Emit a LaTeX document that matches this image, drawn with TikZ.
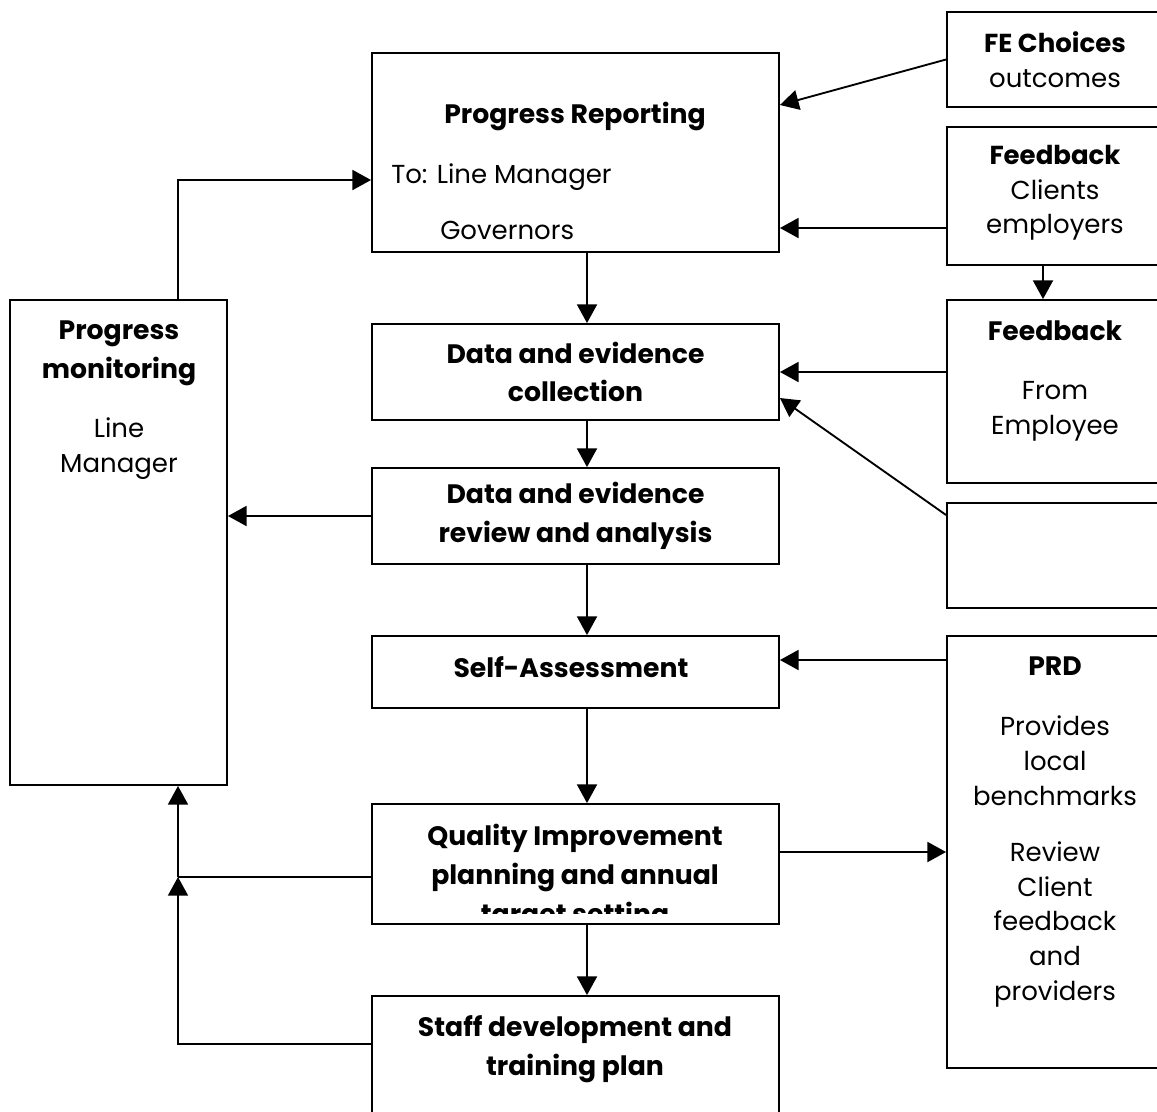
\documentclass[tikz,border=0pt]{standalone}
\usepackage{fontspec}
\setmainfont{Poppins}
\usetikzlibrary{arrows.meta}
\tikzset{
  box/.style={draw,line width=1.4pt,inner sep=0pt},
  txt/.style={align=center,inner sep=0pt,font=\fontsize{19.5}{26}\selectfont},
  ttl/.style={txt,font=\fontsize{20}{29}\selectfont\bfseries},
  arr/.style={line width=1.4pt,-{Triangle[length=14pt,width=15pt]}}
}
\begin{document}
\begin{tikzpicture}[x=.75pt,y=-.75pt]
\clip (0,0) rectangle (1157,1111);
% boxes: name/left/top/right/bottom
\foreach \n/\xa/\ya/\xb/\yb in {rep/372/53/779/252,col/372/324/779/420,rev/372/468/779/564,
  sa/372/636/779/708,qi/372/804/779/924,sd/372/996/779/1140,mon/10/300/227/785,
  fe/947/12/1163/107,fb1/947/127/1163/265,fb2/947/300/1163/483,emp/947/503/1163/608,prd/947/636/1163/1068}
  \node[box,minimum width={(\xb-\xa)*.75pt},minimum height={(\yb-\ya)*.75pt}] (\n) at ({(\xa+\xb)/2},{(\ya+\yb)/2}) {};
% texts (base = last line)
\node[ttl,anchor=base] (repT) at (575,123) {Progress Reporting};
\node[txt,anchor=base west] (repA) at (391,183) {To: Line Manager};
\node[txt,anchor=base west] (repB) at (440,239) {Governors};
\node[ttl] (colT) at (col) {Data and evidence\\collection};
\node[ttl] (revT) at (rev) {Data and evidence\\review and analysis};
\node[ttl] (saT) at (571,667) {Self-Assessment};
\begin{scope}
  \clip (372,804) rectangle (779,913);
  \node[ttl,anchor=base] (qiT) at (575,923) {Quality Improvement\\planning and annual\\target setting};
\end{scope}
\node[ttl,anchor=base] (sdT) at (575,1075) {Staff development and\\training plan};
\node[ttl,anchor=base] (monT) at (119,378) {Progress\\monitoring};
\node[txt,anchor=base] (monA) at (119,472) {Line\\Manager};
\node[txt] (feT) at (1055,60) {\bfseries FE Choices\\outcomes};
\node[txt] (fb1T) at (1055,193) {\bfseries Feedback\\Clients\\employers};
\node[ttl,anchor=base] (fb2T) at (1055,340) {Feedback};
\node[txt,anchor=base] (fb2A) at (1055,434) {From\\Employee};
\node[ttl,anchor=base] (prdT) at (1055,675) {PRD};
\node[txt,anchor=base] (prdA) at (1055,805) {Provides\\local\\benchmarks};
\node[txt,anchor=base] (prdB) at (1055,1000) {Review\\Client\\feedback\\and\\providers};
% connectors
\draw[arr] (fe.west) -- (rep.east |- 0,105);
\draw[arr] (fb1.west |- 0,228) -- (rep.east |- 0,228);
\draw[arr] (fb1.south -| 1043,0) -- (fb2.north -| 1043,0);
\draw[arr] (fb2.west |- col.east) -- (col.east);
\draw[arr] (emp.west |- 0,515) -- (col.east |- 0,398);
\draw[arr] (rep.south -| 587,0) -- (col.north -| 587,0);
\draw[arr] (col.south -| 587,0) -- (rev.north -| 587,0);
\draw[arr] (rev.west) -- (mon.east |- rev.west);
\draw[arr] (rev.south -| 587,0) -- (sa.north -| 587,0);
\draw[arr] (prd.west |- 0,660) -- (sa.east |- 0,660);
\draw[arr] (sa.south -| 587,0) -- (qi.north -| 587,0);
\draw[arr] (qi.east |- 0,852) -- (prd.west |- 0,852);
\draw[arr] (qi.south -| 587,0) -- (sd.north -| 587,0);
\draw[arr] (mon.north -| 178,0) |- (rep.west |- 0,180);
\coordinate (jn) at (178,877);
\draw[line width=1.4pt] (qi.west |- jn) -- (jn);
\draw[arr] (jn) -- (mon.south -| jn);
\draw[arr] (sd.west |- 0,1044) -| (jn);
\end{tikzpicture}
\end{document}
